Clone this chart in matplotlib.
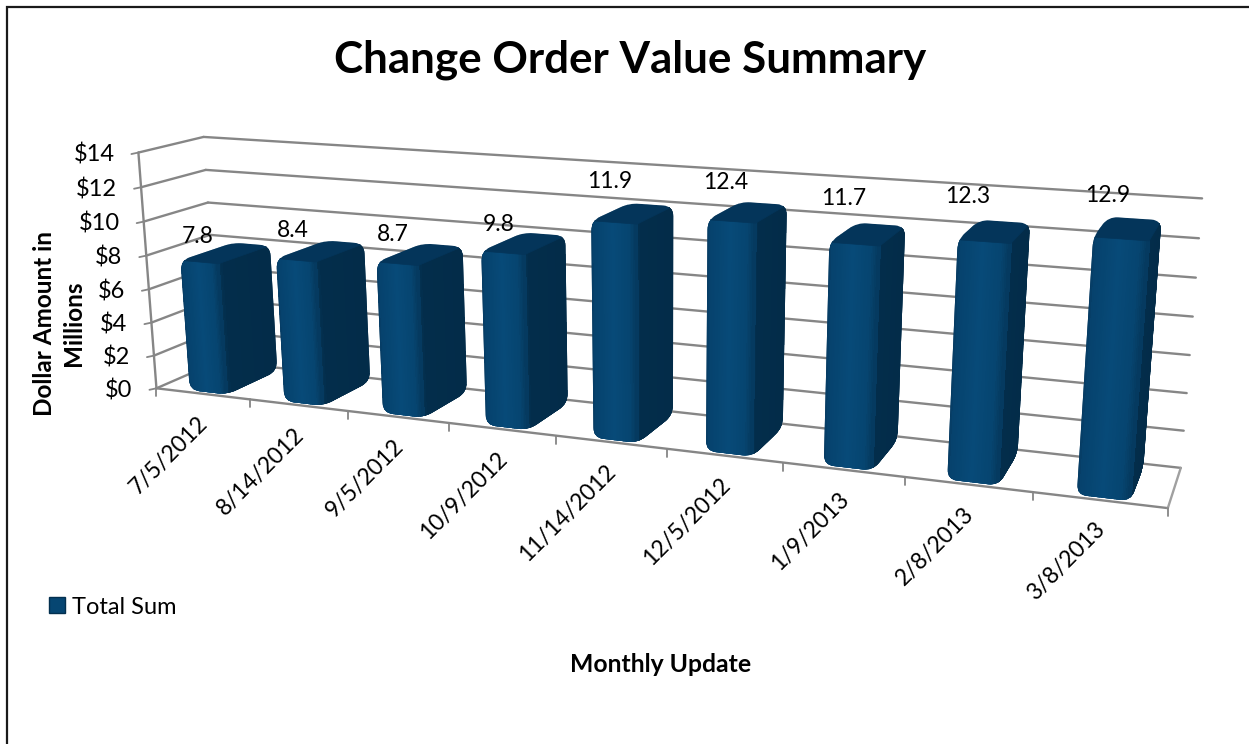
import numpy as np
import matplotlib
matplotlib.use("Agg")
import matplotlib.pyplot as plt
from matplotlib.path import Path
from matplotlib.patches import PathPatch, Patch, Polygon
from matplotlib.collections import PolyCollection
from matplotlib.colors import LinearSegmentedColormap

# ---- data ----
dates = ["7/5/2012", "8/14/2012", "9/5/2012", "10/9/2012", "11/14/2012",
         "12/5/2012", "1/9/2013", "2/8/2013", "3/8/2013"]
total_sum = [7.8, 8.4, 8.7, 9.8, 11.9, 12.4, 11.7, 12.3, 12.9]
y_ticks = [0, 2, 4, 6, 8, 10, 12, 14]
y_tick_labels = ["$0", "$2", "$4", "$6", "$8", "$10", "$12", "$14"]
title = "Change Order Value Summary"
y_title = "Dollar Amount in\nMillions"
x_title = "Monthly Update"
series_name = "Total Sum"

plt.rcParams['font.family'] = ['Lato', 'DejaVu Sans']
GRID = "#868686"
TXT = "#000000"

fig = plt.figure(figsize=(12.49, 7.44), dpi=100)
ax = fig.add_axes([0, 0, 1, 1])
ax.set_xlim(0, 1249)
ax.set_ylim(744, 0)
ax.axis("off")

# ---- perspective camera: fitted from the box corners of the 3-D plot ----
world = np.array([(0, 0, 0), (9, 0, 0), (9, 1, 0), (0, 1, 0), (0, 0, 14), (0, 1, 14),
                  (9, 1, 14), (1, 0, 0), (8, 0, 0)], float)
image = np.array([(157, 387), (1168, 510), (1181, 465), (218, 364), (138, 153), (204, 136),
                  (1202, 199), (250, 398), (1033, 493)], float)
rows, rhs = [], []
for (X, Y, Z), (u, v) in zip(world, image):
    rows.append([X, Y, Z, 1, 0, 0, 0, 0, -u * X, -u * Y, -u * Z])
    rhs.append(u)
    rows.append([0, 0, 0, 0, X, Y, Z, 1, -v * X, -v * Y, -v * Z])
    rhs.append(v)
sol = np.linalg.lstsq(np.array(rows), np.array(rhs), rcond=None)[0]
CAM = np.append(sol, 1).reshape(3, 4)


def proj(x, y, z):
    w = CAM @ np.array([x, y, z, 1.0])
    return np.array([w[0] / w[2], w[1] / w[2]])


# ---- walls, floor, gridlines ----
def line(a, b, lw=1.7, z=1, color=GRID):
    ax.plot([a[0], b[0]], [a[1], b[1]], color=color, lw=lw, zorder=z, solid_capstyle="round")


ZMAX = 14
NCAT = len(dates)
for t in y_ticks:
    line(proj(0, 0, t), proj(0, 1, t))
    line(proj(0, 1, t), proj(NCAT, 1, t))
    a = proj(0, 0, t)
    line(a, a + np.array([-7, 1.5]), lw=1.3)
    ax.text(a[0] - 24, a[1] + 2, y_tick_labels[t // 2], ha="right", va="center",
            fontsize=17, color=TXT, zorder=6)
line(proj(0, 0, 0), proj(0, 0, ZMAX))
line(proj(0, 0, 0), proj(NCAT, 0, 0))
line(proj(NCAT, 0, 0), proj(NCAT, 1, 0), color="#A0A0A0")
for i in range(NCAT + 1):
    a = proj(i, 0, 0)
    line(a, a + np.array([0, 8]), lw=1.3)


# ---- bars ----
front_cmap = LinearSegmentedColormap.from_list(
    "f", [(0, "#06395F"), (0.08, "#06426D"), (0.5, "#074A78"), (0.85, "#064570"), (1, "#05395E")])
side_cmap = LinearSegmentedColormap.from_list(
    "s", [(0, "#043453"), (0.12, "#032D4B"), (1, "#032C49")])


def hull(pts):
    pts = sorted(map(tuple, pts))

    def half(seq):
        out = []
        for p in seq:
            while len(out) > 1:
                a, b = np.array(out[-2]), np.array(out[-1])
                if (b - a)[0] * (np.array(p) - a)[1] - (b - a)[1] * (np.array(p) - a)[0] <= 0:
                    out.pop()
                else:
                    break
            out.append(p)
        return out[:-1]

    return np.array(half(pts) + half(pts[::-1]))


def rounded(poly, r):
    verts, codes = [], []
    n = len(poly)
    for k in range(n):
        p, prev, nxt = poly[k], poly[k - 1], poly[(k + 1) % n]
        d0 = (prev - p) / np.linalg.norm(prev - p)
        d1 = (nxt - p) / np.linalg.norm(nxt - p)
        rr = min(r, np.linalg.norm(prev - p) / 2.2, np.linalg.norm(nxt - p) / 2.2)
        a, b = p + d0 * rr, p + d1 * rr
        verts += [a, p, b]
        codes += [Path.MOVETO if k == 0 else Path.LINETO, Path.CURVE3, Path.CURVE3]
    verts.append(verts[0])
    codes.append(Path.CLOSEPOLY)
    return Path(np.array(verts), codes)


BAR_X0, BAR_X1 = 0.32, 0.72
BAR_Y0, BAR_Y1 = 0.06, 0.90
STRIPS = 30

for i, val in enumerate(total_sum):
    x0, x1 = i + BAR_X0, i + BAR_X1
    y0, y1 = BAR_Y0, BAR_Y1
    corners = [proj(x, y, z) for x in (x0, x1) for y in (y0, y1) for z in (0, val)]
    clip = PathPatch(rounded(hull(corners), 10), transform=ax.transData, fc="none", ec="none")
    ax.add_patch(clip)
    ss = np.linspace(0, 1, STRIPS + 1)
    # right side face
    polys = [[proj(x1, y0 + (y1 - y0) * ss[k], 0), proj(x1, y0 + (y1 - y0) * ss[k + 1], 0),
              proj(x1, y0 + (y1 - y0) * ss[k + 1], val), proj(x1, y0 + (y1 - y0) * ss[k], val)]
             for k in range(STRIPS)]
    cols = [side_cmap((k + .5) / STRIPS) for k in range(STRIPS)]
    pc = PolyCollection(polys, facecolors=cols, edgecolors=cols, linewidths=1.0,
                        antialiaseds=False, zorder=3)
    ax.add_collection(pc)
    pc.set_clip_path(clip)
    # front face
    polys = [[proj(x0 + (x1 - x0) * ss[k], y0, 0), proj(x0 + (x1 - x0) * ss[k + 1], y0, 0),
              proj(x0 + (x1 - x0) * ss[k + 1], y0, val), proj(x0 + (x1 - x0) * ss[k], y0, val)]
             for k in range(STRIPS)]
    cols = [front_cmap((k + .5) / STRIPS) for k in range(STRIPS)]
    pc = PolyCollection(polys, facecolors=cols, edgecolors=cols, linewidths=1.0,
                        antialiaseds=False, zorder=3.1)
    ax.add_collection(pc)
    pc.set_clip_path(clip)
    # top face
    top = Polygon([proj(x0, y0, val), proj(x1, y0, val), proj(x1, y1, val), proj(x0, y1, val)],
                  closed=True, fc="#04355A", ec="#04355A", lw=0.5, zorder=3.2)
    ax.add_patch(top)
    top.set_clip_path(clip)

# ---- data labels ----
label_nudge_x = [-2, -3, -4, -4, -4, -6, -11, -16, -13]
label_nudge_y = [-26, -30, -29, -28, -41, -39, -46, -45, -43]
for i, val in enumerate(total_sum):
    p = proj(i + (BAR_X0 + BAR_X1) / 2, BAR_Y0, val)
    ax.text(p[0] + label_nudge_x[i], p[1] + label_nudge_y[i], f"{val:.1f}", ha="center",
            va="center", fontsize=16.5, color=TXT, zorder=6)

# ---- category labels ----
for i, d in enumerate(dates):
    p = proj(i + 0.5, 0, 0)
    ax.text(p[0] + 2, p[1] + 26, d, rotation=45, rotation_mode="anchor", ha="right", va="center",
            fontsize=16.5, color=TXT, zorder=6)

# ---- titles ----
ax.text(630, 60, title, ha="center", va="center", fontsize=31.7, fontweight="bold", color=TXT)
ax.text(59, 323, y_title, rotation=90, ha="center", va="center", fontsize=17.5, fontweight="bold",
        color=TXT, linespacing=1.28, multialignment="center")
ax.text(661, 665, x_title, ha="center", va="center", fontsize=17.8, fontweight="bold", color=TXT)

# ---- legend ----
leg = ax.legend(handles=[Patch(facecolor="#064672", edgecolor="#03304F", lw=1, label=series_name)],
                loc="center left", bbox_to_anchor=(28, 607), bbox_transform=ax.transData,
                frameon=False, fontsize=17, handlelength=0.68, handleheight=0.68, handletextpad=0.3,
                labelcolor=TXT)

# ---- chart frame: only the top and left edges fall inside the picture ----
ax.plot([7, 7, 1249], [744, 7, 7], color="#1a1a1a", lw=1.6, zorder=7, solid_joinstyle="miter")

fig.savefig("out.png", dpi=100)
